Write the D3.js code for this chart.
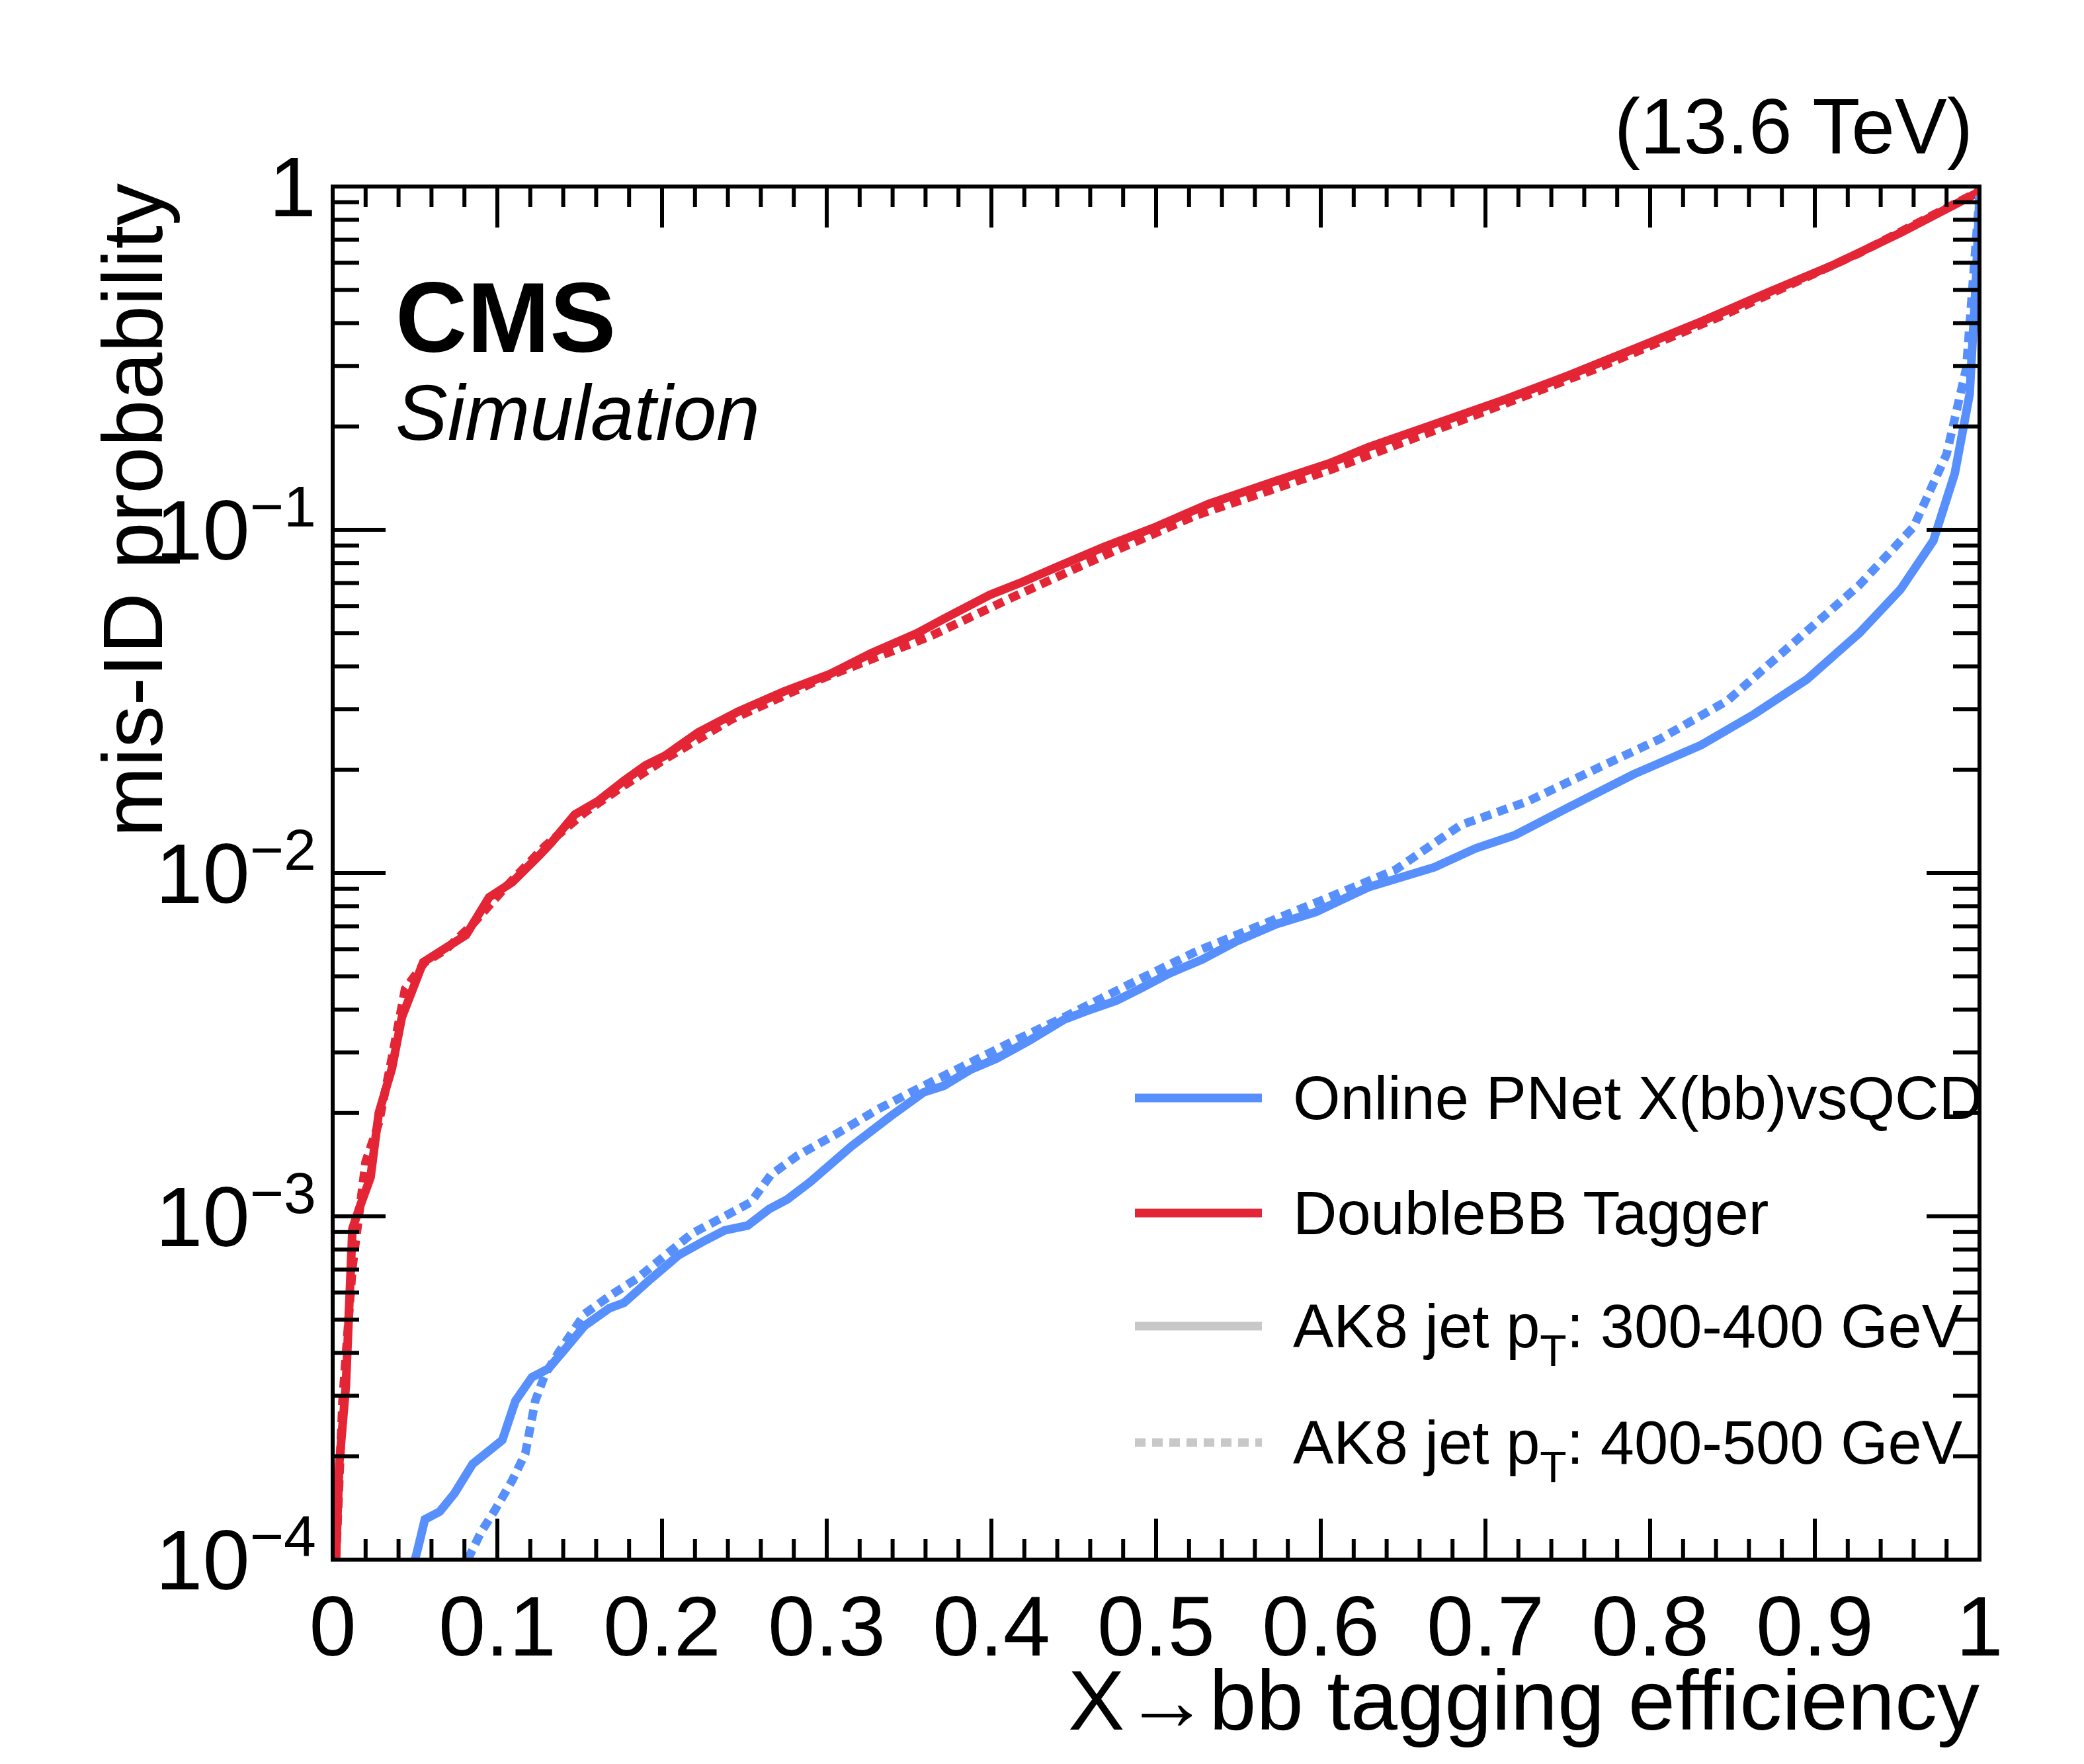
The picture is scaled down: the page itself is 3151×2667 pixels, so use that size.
<!DOCTYPE html>
<html>
<head>
<meta charset="UTF-8">
<script src="https://d3js.org/d3.v7.min.js"></script>
<style>
  body { margin: 0; padding: 0; background: #fff; }
  text { font-family: "Liberation Sans Narrow", "Liberation Sans", Arial, sans-serif; }
</style>
</head>
<body>
<svg id="chart" width="3151" height="2667"></svg>
<script>
// efficiency (x) and mis-ID probability (y)
const redSolidX = [0.002,0.004,0.008,0.012,0.016,0.023,0.028,0.036,0.042,0.055,0.065,0.081,0.095,0.109,0.125,0.133,0.147,0.161,0.177,0.190,0.202,0.222,0.246,0.274,0.302,0.327,0.355,0.371,0.399,0.419,0.440,0.468,0.500,0.532,0.573,0.605,0.629,0.669,0.710,0.750,0.790,0.831,0.871,0.911,0.952,0.998];
const redSolidY = [1e-4,1.9e-4,3.2e-4,9.2e-4,1.05e-3,1.3e-3,2.0e-3,2.7e-3,3.8e-3,5.5e-3,5.9e-3,6.6e-3,8.5e-3,9.4e-3,0.0112,0.0123,0.0148,0.0162,0.0186,0.0206,0.022,0.0257,0.0295,0.0338,0.038,0.0437,0.050,0.055,0.0646,0.0705,0.078,0.089,0.102,0.119,0.139,0.156,0.174,0.203,0.238,0.281,0.336,0.404,0.49,0.59,0.733,0.955];
const redDotX = [0.002,0.006,0.012,0.020,0.028,0.036,0.044,0.056,0.069,0.085,0.105,0.129,0.153,0.177,0.202,0.242,0.298,0.363,0.411,0.468,0.524,0.605,0.685,0.766,0.847,0.927,1.0];
const redDotY = [1e-4,2.9e-4,7.1e-4,1.44e-3,1.87e-3,2.9e-3,4.6e-3,5.5e-3,6.0e-3,7.1e-3,9.1e-3,0.012,0.015,0.018,0.0215,0.028,0.037,0.049,0.063,0.084,0.11,0.149,0.208,0.293,0.427,0.64,0.97];
const blueSolidX = [0.050,0.052,0.056,0.065,0.074,0.085,0.103,0.111,0.121,0.131,0.141,0.153,0.168,0.177,0.192,0.210,0.226,0.238,0.252,0.265,0.276,0.290,0.315,0.339,0.359,0.371,0.387,0.403,0.423,0.444,0.460,0.476,0.492,0.508,0.528,0.548,0.573,0.597,0.629,0.669,0.694,0.718,0.750,0.790,0.831,0.863,0.895,0.927,0.952,0.972,0.985,0.994,0.998,1.0];
const blueSolidY = [1e-4,1.09e-4,1.31e-4,1.38e-4,1.56e-4,1.9e-4,2.23e-4,2.9e-4,3.4e-4,3.6e-4,4.1e-4,4.8e-4,5.4e-4,5.6e-4,6.5e-4,7.7e-4,8.5e-4,9.1e-4,9.4e-4,1.05e-3,1.12e-3,1.26e-3,1.6e-3,1.96e-3,2.3e-3,2.4e-3,2.67e-3,2.88e-3,3.25e-3,3.74e-3,4.0e-3,4.25e-3,4.65e-3,5.1e-3,5.6e-3,6.3e-3,7.1e-3,7.7e-3,9.1e-3,0.0104,0.0118,0.0129,0.0155,0.0194,0.0236,0.029,0.0366,0.050,0.067,0.093,0.146,0.248,0.55,0.94];
const blueDotX = [0.082,0.090,0.098,0.109,0.117,0.123,0.129,0.137,0.153,0.169,0.185,0.202,0.218,0.238,0.254,0.266,0.282,0.306,0.331,0.355,0.379,0.411,0.444,0.484,0.524,0.565,0.605,0.645,0.685,0.726,0.766,0.806,0.847,0.887,0.927,0.960,0.980,0.992,1.0];
const blueDotY = [1e-4,1.2e-4,1.38e-4,1.7e-4,2.04e-4,2.9e-4,3.47e-4,4.0e-4,5.2e-4,5.9e-4,6.6e-4,7.7e-4,8.9e-4,1.0e-3,1.1e-3,1.32e-3,1.5e-3,1.74e-3,2.05e-3,2.35e-3,2.68e-3,3.2e-3,3.8e-3,4.75e-3,5.9e-3,7.1e-3,8.5e-3,0.0102,0.0138,0.0162,0.02,0.0246,0.0318,0.0468,0.069,0.102,0.166,0.296,0.94];

const xTickLabels = ["0","0.1","0.2","0.3","0.4","0.5","0.6","0.7","0.8","0.9","1"];
const yDecades = [-4, -3, -2, -1, 0];
const legendLabels = ["Online PNet X(bb)vsQCD", "DoubleBB Tagger", "AK8 jet p|T|: 300-400 GeV", "AK8 jet p|T|: 400-500 GeV"];

const BLUE = "#5790fc", RED = "#e42536", GREY = "#c8c8c8";
const DOTS = "16,10";
const svg = d3.select("#chart");
const L = 503, R = 2993, T = 282, B = 2358;
const x = d3.scaleLinear().domain([0, 1]).range([L, R]);
const y = d3.scaleLog().domain([1e-4, 1]).range([B, T]);

const clip = svg.append("defs").append("clipPath").attr("id", "clip");
clip.append("rect").attr("x", L).attr("y", T - 10).attr("width", R - L).attr("height", B - T + 10);

const line = d3.line().x(d => x(d[0])).y(d => y(d[1]));
const series = [
  { xs: redSolidX, ys: redSolidY, c: RED, dash: null },
  { xs: redDotX, ys: redDotY, c: RED, dash: DOTS },
  { xs: blueSolidX, ys: blueSolidY, c: BLUE, dash: null },
  { xs: blueDotX, ys: blueDotY, c: BLUE, dash: DOTS }
];
const g = svg.append("g").attr("clip-path", "url(#clip)");
series.forEach(s => {
  g.append("path").datum(d3.zip(s.xs, s.ys))
    .attr("d", line).attr("fill", "none")
    .attr("stroke", s.c).attr("stroke-width", 13)
    .attr("stroke-dasharray", s.dash);
});

// frame and ticks
const ax = svg.append("g").attr("stroke", "#000").attr("stroke-width", 6);
ax.append("rect").attr("x", L).attr("y", T).attr("width", R - L).attr("height", B - T).attr("fill", "none");
d3.range(0, 51).forEach(i => {
  const v = i / 50, len = i % 5 === 0 ? 62 : 31;
  ax.append("line").attr("x1", x(v)).attr("x2", x(v)).attr("y1", B).attr("y2", B - len);
  ax.append("line").attr("x1", x(v)).attr("x2", x(v)).attr("y1", T).attr("y2", T + len);
});
yDecades.forEach(e => {
  for (let k = 1; k <= 9; k++) {
    const v = k * Math.pow(10, e);
    if (v > 1) break;
    const len = k === 1 ? 80 : 40;
    ax.append("line").attr("x1", L).attr("x2", L + len).attr("y1", y(v)).attr("y2", y(v));
    ax.append("line").attr("x1", R).attr("x2", R - len).attr("y1", y(v)).attr("y2", y(v));
  }
});

// tick labels
xTickLabels.forEach((t, i) => {
  svg.append("text").attr("x", x(i / 10)).attr("y", B + 145)
    .attr("text-anchor", "middle").attr("font-size", 128).text(t);
});
yDecades.forEach(e => {
  const tx = svg.append("text").attr("x", L - 25).attr("y", y(Math.pow(10, e)) + 45)
    .attr("text-anchor", "end").attr("font-size", 128);
  if (e === 0) { tx.text("1"); return; }
  tx.append("tspan").text("10");
  tx.append("tspan").attr("dy", -50).attr("font-size", 88).text("\u2212" + (-e));
});

// titles
svg.append("text").attr("x", R).attr("y", 2615).attr("text-anchor", "end")
  .attr("font-size", 128).text("X\u2192bb tagging efficiency");
svg.append("text").attr("transform", `translate(245,${T - 5}) rotate(-90)`)
  .attr("text-anchor", "end").attr("font-size", 128).text("mis-ID probability");
svg.append("text").attr("x", R - 10).attr("y", 232).attr("text-anchor", "end")
  .attr("font-size", 118).text("(13.6 TeV)");
svg.append("text").attr("x", 598).attr("y", 532).attr("font-size", 150)
  .attr("font-weight", "bold").text("CMS");
svg.append("text").attr("x", 598).attr("y", 665).attr("font-size", 118)
  .attr("font-style", "italic").text("Simulation");

// legend
const legColors = [BLUE, RED, GREY, GREY];
const legDash = [null, null, null, DOTS];
const legY = [1660, 1834, 2005, 2181];
legendLabels.forEach((lab, i) => {
  svg.append("line").attr("x1", 1716).attr("x2", 1908).attr("y1", legY[i]).attr("y2", legY[i])
    .attr("stroke", legColors[i]).attr("stroke-width", 13).attr("stroke-dasharray", legDash[i]);
  const t = svg.append("text").attr("x", 1955).attr("y", legY[i] + 32).attr("font-size", 92);
  const parts = lab.split("|");
  t.append("tspan").text(parts[0]);
  if (parts.length > 1) {
    t.append("tspan").attr("dy", 28).attr("font-size", 66).text(parts[1]);
    t.append("tspan").attr("dy", -28).text(parts[2]);
  }
});
</script>
</body>
</html>
